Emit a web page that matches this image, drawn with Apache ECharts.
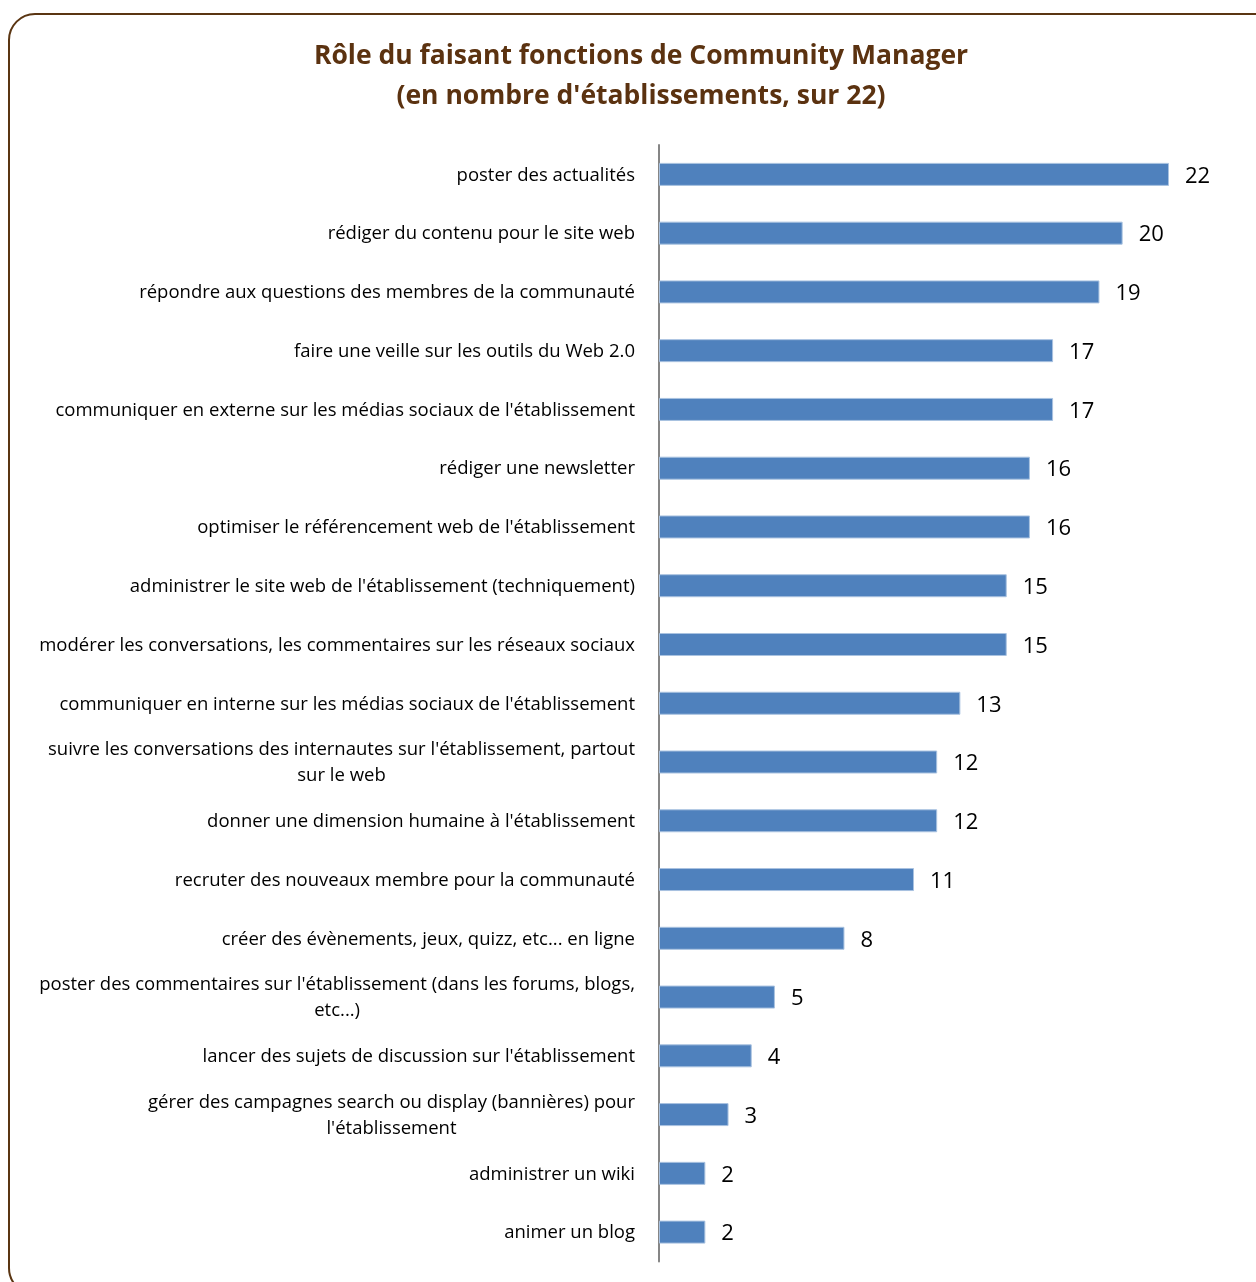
<!DOCTYPE html>
<html><head><meta charset="utf-8">
<script src="https://cdn.jsdelivr.net/npm/echarts@6/dist/echarts.min.js"></script>
<style>html,body{margin:0;padding:0;background:#fff}#c{width:1256px;height:1282px}</style>
</head><body><div id="c"></div>
<script>
const titleLines = ["Rôle du faisant fonctions de Community Manager", "(en nombre d'établissements, sur 22)"];
const categories = [
  "poster des actualités",
  "rédiger du contenu pour le site web",
  "répondre aux questions des membres de la communauté",
  "faire une veille sur les outils du Web 2.0",
  "communiquer en externe sur les médias sociaux de l'établissement",
  "rédiger une newsletter",
  "optimiser le référencement web de l'établissement",
  "administrer le site web de l'établissement (techniquement)",
  "modérer les conversations, les commentaires sur les réseaux sociaux",
  "communiquer en interne sur les médias sociaux de l'établissement",
  "suivre les conversations des internautes sur l'établissement, partout\nsur le web",
  "donner une dimension humaine à l'établissement",
  "recruter des nouveaux membre pour la communauté",
  "créer des évènements, jeux, quizz, etc... en ligne",
  "poster des commentaires sur l'établissement (dans les forums, blogs,\netc...)",
  "lancer des sujets de discussion sur l'établissement",
  "gérer des campagnes search ou display (bannières) pour\nl'établissement",
  "administrer un wiki",
  "animer un blog"
];
const values = [22, 20, 19, 17, 17, 16, 16, 15, 15, 13, 12, 12, 11, 8, 5, 4, 3, 2, 2];

const FONT = "'Open Sans', sans-serif";
const chart = echarts.init(document.getElementById('c'), null, {renderer: 'canvas'});
chart.setOption({
  animation: false,
  backgroundColor: '#fff',
  graphic: [{
    type: 'rect', shape: {x: 9, y: 14, width: 1280, height: 1280, r: 26},
    style: {fill: 'none', stroke: '#5a3512', lineWidth: 2}, silent: true, z: 0
  }],
  title: {
    text: titleLines.join('\n'), left: 636, top: 31, textAlign: 'center',
    textStyle: {fontFamily: FONT, fontWeight: 'bold', fontSize: 26.5, color: '#5b3210', lineHeight: 40}
  },
  grid: {left: 659, right: 87, top: 145, bottom: 20.5, containLabel: false},
  xAxis: {type: 'value', min: 0, max: 22, show: false},
  yAxis: {
    type: 'category', data: categories, inverse: true,
    axisLine: {show: true, lineStyle: {color: '#868686', width: 2}},
    axisTick: {show: false},
    axisLabel: {
      margin: 24, fontFamily: FONT, fontSize: 18.5, color: '#000', align: 'right', lineHeight: 26,
      formatter: v => v.split('\n').map(s => '{c|' + s + '}').join('\n'),
      rich: {c: {align: 'center', fontFamily: FONT, fontSize: 18.5, color: '#000', lineHeight: 26, padding: [2, 0, 0, 0]}}
    }
  },
  series: [{
    type: 'bar', data: values, barWidth: 23,
    itemStyle: {color: '#4f81bd', borderColor: '#a9c2e0', borderWidth: 1},
    label: {show: true, position: 'right', distance: 16, offset: [0, 2], fontFamily: FONT, fontSize: 22, color: '#000'}
  }]
});
</script></body></html>
